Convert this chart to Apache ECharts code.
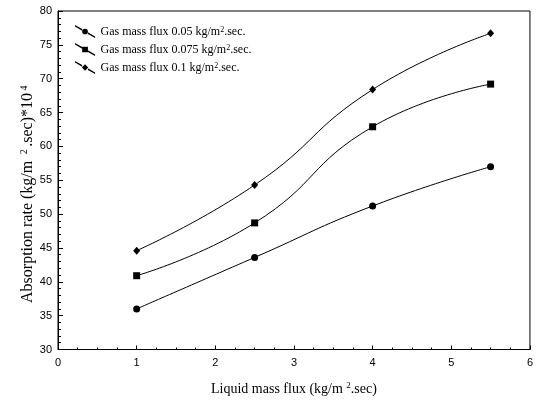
<!DOCTYPE html>
<html>
<head>
<meta charset="utf-8">
<script src="https://cdn.jsdelivr.net/npm/echarts@6/dist/echarts.min.js"></script>
<style>html,body{margin:0;padding:0;background:#fff}#c{width:536px;height:401px}</style>
</head>
<body>
<div id="c"></div>
<script>
var liquidFlux = [1, 2.5, 4, 5.5];
var rateGas005 = [36.0, 43.6, 51.2, 57.0];
var rateGas0075 = [40.9, 48.7, 62.9, 69.2];
var rateGas01 = [44.6, 54.3, 68.4, 76.7];
var seriesNames = ['Gas mass flux 0.05 kg/m{sup|2}.sec.', 'Gas mass flux 0.075 kg/m{sup|2}.sec.', 'Gas mass flux 0.1 kg/m{sup|2}.sec.'];
var seriesValues = [rateGas005, rateGas0075, rateGas01];
var symbols = ['circle', 'rect', 'diamond'];
var symbolSizes = [7, 7, [7, 8]];

var lineSegs = 'M0 -0.8 L7.5 3.49 L7.5 5.09 L0 0.8 Z M13.5 6.91 L21 11.2 L21 12.8 L13.5 8.51 Z ';
var legendIcons = [
  'path://' + lineSegs + 'M13.5 6 A3 3 0 1 1 7.5 6 A3 3 0 1 1 13.5 6 Z',
  'path://' + lineSegs + 'M7.5 3 L13.5 3 L13.5 9 L7.5 9 Z',
  'path://' + lineSegs + 'M10.5 2.6 L13.8 6 L10.5 9.4 L7.2 6 Z'
];

var serif = '"Liberation Serif", "Times New Roman", serif';
var sans = '"Liberation Sans", Arial, sans-serif';

var chart = echarts.init(document.getElementById('c'), null, {renderer: 'canvas'});
var series = seriesValues.map(function (vals, i) {
  return {
    name: seriesNames[i],
    type: 'line',
    smooth: true,
    symbol: symbols[i],
    symbolSize: symbolSizes[i],
    data: liquidFlux.map(function (x, j) { return [x, vals[j]]; }),
    itemStyle: {color: '#000'},
    lineStyle: {color: '#000', width: 1},
    emphasis: {disabled: true},
    animation: false
  };
});

chart.setOption({
  backgroundColor: '#fff',
  animation: false,
  grid: {left: 58, right: 2, top: 11, bottom: 50, show: true, borderColor: '#000', borderWidth: 1, backgroundColor: 'transparent'},
  legend: {
    orient: 'vertical',
    left: 75,
    top: 25,
    padding: 0,
    itemWidth: 21,
    itemHeight: 13,
    itemGap: 5,
    selectedMode: false,
    data: seriesNames.map(function (n, i) { return {name: n, icon: legendIcons[i]}; }),
    formatter: function (n) { return n; },
    textStyle: {
      fontFamily: serif, fontSize: 12, color: '#000',
      rich: {sup: {fontFamily: serif, fontSize: 8, verticalAlign: 'top', color: '#000', padding: [0, 0, 4, 0]}}
    }
  },
  xAxis: {
    type: 'value', min: 0, max: 6, interval: 1,
    name: 'Liquid mass flux (kg/m {sup|2}.sec)',
    nameLocation: 'middle', nameGap: 32, nameMoveOverlap: false,
    nameTextStyle: {fontFamily: serif, fontSize: 14, color: '#000',
      rich: {sup: {fontFamily: serif, fontSize: 9, color: '#000', verticalAlign: 'top', padding: [0, 0, 6, 0]}}},
    axisLine: {show: true, lineStyle: {color: '#000', width: 1}},
    axisTick: {show: true, inside: true, length: 4, lineStyle: {color: '#000'}},
    minorTick: {show: true, splitNumber: 4, length: 2, lineStyle: {color: '#000'}},
    axisLabel: {fontFamily: sans, fontSize: 11, color: '#000', margin: 8},
    splitLine: {show: false}
  },
  yAxis: {
    type: 'value', min: 30, max: 80, interval: 5,
    name: 'Absorption rate (kg/m {sup| 2 }.sec)*10{sup| 4}',
    nameLocation: 'middle', nameGap: 22, nameMoveOverlap: false,
    nameTextStyle: {fontFamily: serif, fontSize: 16, color: '#000', padding: [0, 28, 0, 0],
      rich: {sup: {fontFamily: serif, fontSize: 10, color: '#000', verticalAlign: 'top', padding: [0, 0, 7, 0]}}},
    axisLine: {show: true, lineStyle: {color: '#000', width: 1}},
    axisTick: {show: true, inside: true, length: 5, lineStyle: {color: '#000'}},
    minorTick: {show: true, splitNumber: 5, length: 3, lineStyle: {color: '#000'}},
    axisLabel: {fontFamily: sans, fontSize: 11, color: '#000', margin: 6},
    splitLine: {show: false}
  },
  series: series
});
</script>
</body>
</html>
